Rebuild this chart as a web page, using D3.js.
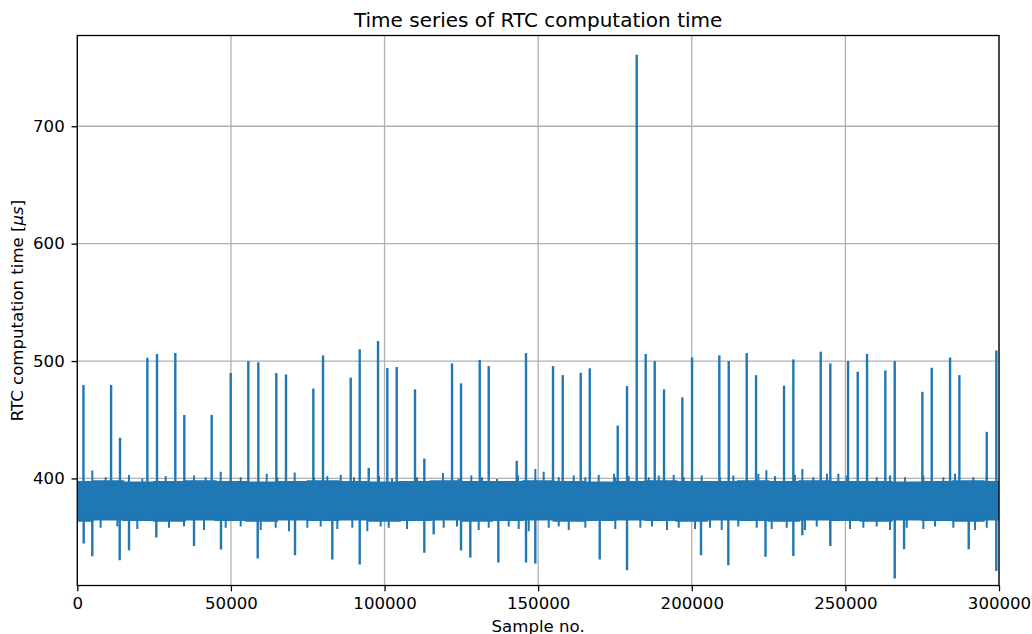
<!DOCTYPE html>
<html><head><meta charset="utf-8">
<script src="https://cdn.jsdelivr.net/npm/d3@7"></script>
<style>body{margin:0;background:#fff}svg{display:block}text{font-family:"DejaVu Sans",sans-serif;fill:#000}</style>
</head><body><svg id="c" width="1032" height="634"></svg>
<script>
// ---- data ----
const xTicks = [0, 50000, 100000, 150000, 200000, 250000, 300000];
const yTicks = [400, 500, 600, 700];
// dense noise band envelope
const bandX  = [0,10000,20000,30000,40000,50000,60000,70000,80000,90000,100000,110000,120000,130000,140000,150000,160000,170000,180000,190000,200000,210000,220000,230000,240000,250000,260000,270000,280000,290000,300000];
const bandHi = [397,397.5,396.5,397,397.5,397,396.5,397,397.5,397,396.5,397,397.5,397,397,397.5,397,396.5,397,397.5,397,397,397.5,397,397.5,397,397,396.5,397,397.5,397];
const bandLo = [364,365,364.5,364,365,364.5,364,365,364.5,365,364,364.5,365,364,364.5,365,364,364.5,365,364.5,364,365,364.5,364,365,364.5,364,365,364.5,364,365];
// small excursions just above the band
const fringeUpX = [4880,9240,16830,21160,28770,37990,41790,46680,53190,61650,65100,70760,77050,81380,85740,90060,98200,102440,110580,119040,124140,128250,131730,136610,143450,146050,149080,151800,156700,161580,165360,169720,174700,175120,179470,185980,189240,194120,197380,203240,209200,213530,221670,224280,227100,233610,236000,239570,244000,247710,250440,260200,264530,269420,275380,281890,285700,291650,296010];
const fringeUpY = [406.8,401,403,400,402,402.5,401,405.7,401,404,401,405,401,402,403,401,402,400,401,404.6,400,402.5,401,399.5,402.5,406.8,408,405.7,401,402.5,401,403,404,401,402,401,402.5,403,401,402.5,401,402.5,404,407,402,403,408,401,404,404,402.5,401,402.5,401,402.5,401,404,401,402];
// small excursions just below the band
const fringeDnX = [7600,13030,19530,29850,34730,41240,48300,53180,59690,64570,68910,74870,79220,84630,89510,94400,98750,101360,107320,119260,123590,130650,133910,140420,143670,146930,153440,156700,159950,165360,175120,183260,187060,191950,195760,201070,205950,209750,215150,221140,226020,230910,236860,240670,245000,251510,255850,260200,264530,269970,275380,279180,285140,292200,296010];
const fringeDnY = [358,359,357,358,359,356,358,359,356,358,355,358,359,357,358,355,359,358,357,358,359,356,358,359,357,355,358,359,356,358,357,358,359,356,358,357,358,356,359,358,357,358,356,359,358,357,358,359,356,358,357,359,358,356,358];
// large upward spikes
const spikeUpX = [2000,11000,13900,22800,25940,31900,34830,43740,49930,55660,58920,64770,67930,76820,79980,88990,91920,94850,97880,100910,103960,109920,112950,121970,124900,130980,133910,143020,146050,154840,158000,163860,166790,175900,178930,182080,185010,187940,190970,196930,200090,208970,212030,217890,220920,230030,233060,241970,245100,250870,254020,257050,263000,266060,275050,278110,284070,287100,296010,299130];
const spikeUpY = [479.5,479.5,434.6,502.8,506,506.8,454,454,489.8,500,498.9,489.8,488.6,476.6,504.8,485.8,510,409,517,494,494.9,475.9,417,498,481,500.9,495.7,415,506.8,495.7,488,490,493.8,445,478.7,761,506,500,475.9,469,503,504.8,500,506.8,488,479,501.4,508,498,500,490.9,506,492,500,473.8,494.3,503,488,439.7,509];
// large downward spikes
const spikeDnX = [2080,4880,13800,16830,25720,37990,46770,58720,70860,83000,91920,112950,116000,124900,127920,137040,146050,149080,170040,178930,203010,211900,224000,233060,236000,245100,266060,269100,290150,299130];
const spikeDnY = [344.6,333.8,330.3,338.9,349.7,342.5,339.5,331.8,334.6,331,326.7,336.6,352.5,338.6,332.6,328.4,328.4,327.5,331,321.8,334.6,326,333.2,334,351.7,342.5,314.7,339.7,339.7,321.2];

// ---- layout ----
const L = 77.3, R = 999, T = 35.5, B = 585.5;
const blue = "#1f77b4";
const svg = d3.select("#c");
const x = d3.scaleLinear().domain([0, 300000]).range([L, R]);
const y = d3.scaleLinear().domain([308.8, 777.3]).range([B, T]);

// grid
const g = svg.append("g");
g.selectAll(".gx").data(xTicks).enter().append("line")
  .attr("x1", d => x(d)).attr("x2", d => x(d)).attr("y1", T).attr("y2", B)
  .attr("stroke", "#b0b0b0").attr("stroke-width", 1.3);
g.selectAll(".gy").data(yTicks).enter().append("line")
  .attr("x1", L).attr("x2", R).attr("y1", d => y(d)).attr("y2", d => y(d))
  .attr("stroke", "#b0b0b0").attr("stroke-width", 1.3);

svg.append("clipPath").attr("id", "clip").append("rect")
  .attr("x", L).attr("y", T).attr("width", R - L).attr("height", B - T);
const p = svg.append("g").attr("clip-path", "url(#clip)");

// band
const band = bandX.map((v, i) => ({x: v, hi: bandHi[i], lo: bandLo[i]}));
p.append("path").datum(band)
  .attr("d", d3.area().x(d => x(d.x)).y0(d => y(d.lo)).y1(d => y(d.hi)).curve(d3.curveStep))
  .attr("fill", blue).attr("stroke", blue).attr("stroke-width", 2);

const hiAt = v => d3.scaleLinear().domain(bandX).range(bandHi)(v) - 2;
const loAt = v => d3.scaleLinear().domain(bandX).range(bandLo)(v) + 2;
const vline = (xs, ys, base, w) => {
  p.append("g").selectAll("line").data(xs.map((v, i) => [v, ys[i]])).enter().append("line")
    .attr("x1", d => x(d[0])).attr("x2", d => x(d[0]))
    .attr("y1", d => y(base(d[0]))).attr("y2", d => y(d[1]))
    .attr("stroke", blue).attr("stroke-width", w).attr("stroke-linecap", "butt");
};
vline(fringeUpX, fringeUpY, hiAt, 2);
vline(fringeDnX, fringeDnY, loAt, 2);
vline(spikeUpX, spikeUpY, hiAt, 2.4);
vline(spikeDnX, spikeDnY, loAt, 2.4);

// axes
const ax = svg.append("g").attr("transform", `translate(0,${B})`)
  .call(d3.axisBottom(x).tickValues(xTicks).tickFormat(d3.format("d")).tickSize(5.8).tickPadding(5.8));
const ay = svg.append("g").attr("transform", `translate(${L},0)`)
  .call(d3.axisLeft(y).tickValues(yTicks).tickFormat(d3.format("d")).tickSize(5.8).tickPadding(6.8));
[ax, ay].forEach(a => {
  a.select(".domain").remove();
  a.selectAll(".tick line").attr("stroke", "#000").attr("stroke-width", 1.3);
  a.selectAll(".tick text").attr("font-size", "16.6px").attr("font-family", "DejaVu Sans").attr("fill", "#000");
});
// spines
svg.append("rect").attr("x", L).attr("y", T).attr("width", R - L).attr("height", B - T)
  .attr("fill", "none").attr("stroke", "#000").attr("stroke-width", 1.3);

// texts
svg.append("text").attr("x", (L + R) / 2).attr("y", 27).attr("text-anchor", "middle")
  .attr("font-size", "20px").text("Time series of RTC computation time");
svg.append("text").attr("x", (L + R) / 2).attr("y", 632).attr("text-anchor", "middle")
  .attr("font-size", "16.6px").text("Sample no.");
const yl = svg.append("text").attr("transform", `translate(23,${(T + B) / 2}) rotate(-90)`)
  .attr("text-anchor", "middle").attr("font-size", "16.6px");
yl.append("tspan").text("RTC computation time [");
yl.append("tspan").attr("font-style", "italic").text("μs");
yl.append("tspan").text("]");
</script></body></html>
